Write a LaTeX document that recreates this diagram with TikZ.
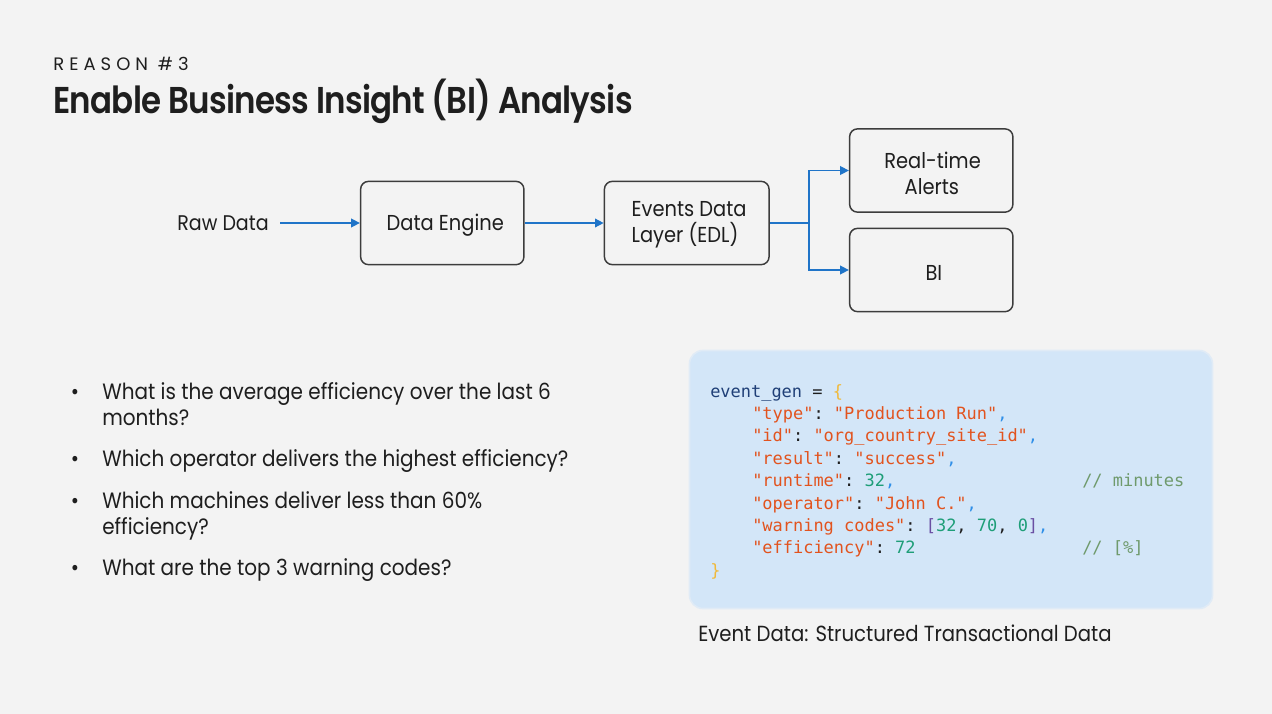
\documentclass[tikz,border=0pt]{standalone}
\usepackage{fontspec}
\usetikzlibrary{arrows.meta}
\setmainfont{Poppins}[FakeStretch=0.9]
\newfontfamily\titlefont{Poppins SemiBold}[FakeStretch=0.87,LetterSpace=-2]
\newfontfamily\kickerfont{Poppins}[LetterSpace=28]
\setmonofont{DejaVu Sans Mono}
\definecolor{pagebg}{HTML}{F3F3F3}
\definecolor{panel}{HTML}{D3E6F8}
\definecolor{flow}{HTML}{1F74C8}
\definecolor{boxline}{HTML}{3C3C3C}
\definecolor{ink}{HTML}{1E1E1E}
\definecolor{cstr}{HTML}{E2531E}
\definecolor{cpunc}{HTML}{2F8FE8}
\definecolor{cnum}{HTML}{1E9E78}
\definecolor{ccom}{HTML}{6F9A6C}
\definecolor{cname}{HTML}{1F3F77}
\definecolor{cbrace}{HTML}{F0B93A}
\definecolor{cbrk}{HTML}{6A4FA3}
\newcommand{\St}[1]{\textcolor{cstr}{#1}}
\newcommand{\Pu}{\textcolor{cpunc}{,}}
\newcommand{\Nu}[1]{\textcolor{cnum}{#1}}
\tikzset{
  x=0.75pt,y=-0.75pt,
  flowbox/.style={draw=boxline,line width=1.1pt,rounded corners=6pt,minimum width=122.5pt,minimum height=62.5pt,inner sep=0pt,text=ink,align=center,font=\fontsize{16.2}{19.5}\selectfont},
  flowline/.style={draw=flow,line width=1.1pt},
  flowarrow/.style={flowline,-{Triangle[length=6.5pt,width=6.5pt]}},
  body/.style={anchor=base west,inner sep=0pt,text=ink,font=\fontsize{16.65}{19.5}\selectfont,align=left},
  dot/.style={anchor=base,inner sep=0pt,text=ink,font=\fontsize{16.65}{19.5}\selectfont},
  code/.style={anchor=base west,inner sep=0pt,font=\ttfamily\fontsize{12.72}{15}\selectfont,text=ink},
  comment/.style={code,text=ccom},
}
\begin{document}
\begin{tikzpicture}
\path[use as bounding box,fill=pagebg] (0,0) rectangle (1272,714);
\node[anchor=base west,inner sep=0pt,text=ink,font=\kickerfont\fontsize{13.5}{16}\selectfont] (kicker) at (53,70) {REASON \#3};
\node[anchor=base west,inner sep=0pt,text=ink,font=\titlefont\fontsize{28}{32}\selectfont] (title) at (53,113) {Enable Business Insight (BI) Analysis};
\node[anchor=base west,inner sep=0pt,text=ink,font=\fontsize{15.9}{19}\selectfont] (raw) at (177,230) {Raw Data};
\coordinate (rawend) at (280,223);
\node[flowbox,text height=13pt,text depth=1.8pt] (engine) at (442.25,223) {\hspace{4.5pt}Data Engine};
\node[flowbox,minimum width=123.5pt,align=left,text height=31pt,text depth=2pt] (edl) at (686.75,223) {\hspace{3.5pt}Events Data\\\hspace{3.5pt}Layer (EDL)};
\node[flowbox,text height=38.3pt,text depth=2pt] (rt) at (931.25,170.5) {\hspace{2pt}Real-time\\\hspace{1pt}Alerts};
\node[flowbox,text height=16pt,text depth=1pt] (bi) at (931.25,270) {\hspace{4pt}BI};
\coordinate (split) at (809,223);
\draw[flowarrow] (rawend) -- (engine.west);
\draw[flowarrow] (engine.east) -- (edl.west);
\draw[flowline] (edl.east) -- (split);
\draw[flowarrow] (split) |- (rt.west);
\draw[flowarrow] (split) |- (bi.west);
\node[dot] (d1) at (75,399) {•};
\node[body] (q1) at (102,425) {What is the average efficiency over the last 6\\months?};
\node[dot] (d2) at (75,466) {•};
\node[body] (q2) at (102,466) {Which operator delivers the highest efficiency?};
\node[dot] (d3) at (75,508) {•};
\node[body] (q3) at (102,534) {Which machines deliver less than 60\%\\efficiency?};
\node[dot] (d4) at (75,575) {•};
\node[body] (q4) at (102,575) {What are the top 3 warning codes?};
\fill[panel,draw=panel!60!pagebg,line width=1.2pt,rounded corners=10pt] (689.5,350.5) rectangle (1212.5,608.5);
\node[code] (c0) at (710,397) {\textcolor{cname}{event\_gen} = \textcolor{cbrace}{\{}};
\node[code] (c1) at (752,419) {\St{"type"}: \St{"Production Run"}\Pu};
\node[code] (c2) at (752,441.5) {\St{"id"}: \St{"org\_country\_site\_id"}\Pu};
\node[code] (c3) at (752,464) {\St{"result"}: \St{"success"}\Pu};
\node[code] (c4) at (752,486) {\St{"runtime"}: \Nu{32}\Pu};
\node[comment] (m4) at (1082,486) {// minutes};
\node[code] (c5) at (752,509) {\St{"operator"}: \St{"John C."}\Pu};
\node[code] (c6) at (752,531) {\St{"warning codes"}: \textcolor{cbrk}{[}\Nu{32}, \Nu{70}, \Nu{0}\textcolor{cbrk}{]}\Pu};
\node[code] (c7) at (752,553) {\St{"efficiency"}: \Nu{72}};
\node[comment] (m7) at (1082,553) {// [\%]};
\node[code] (c8) at (710,576) {\textcolor{cbrace}{\}}};
\node[body,font=\fontsize{16.4}{19.5}\selectfont] (caption) at (698,641) {Event Data: Structured Transactional Data};
\end{tikzpicture}
\end{document}
